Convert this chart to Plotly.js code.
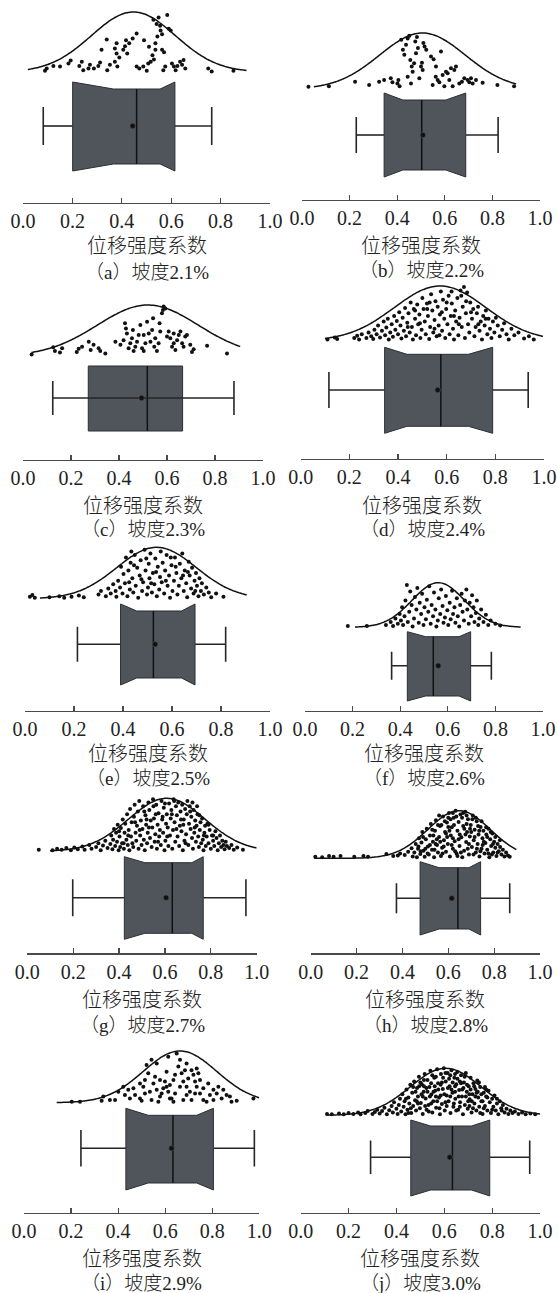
<!DOCTYPE html>
<html>
<head>
<meta charset="utf-8">
<script src="https://cdn.plot.ly/plotly-3.0.1.min.js"></script>
<style>
  html, body { margin: 0; padding: 0; background: #fff; }
  #chart { width: 558px; height: 1293px; }
</style>
</head>
<body>
<div id="chart"></div>
<script>
// ---- data -------------------------------------------------------------
const panelLetters = ['a', 'b', 'c', 'd', 'e', 'f', 'g', 'h', 'i', 'j'];
const slopeLabels  = ['2.1%', '2.2%', '2.3%', '2.4%', '2.5%', '2.6%', '2.7%', '2.8%', '2.9%', '3.0%'];
const axisTitle    = '位移强度系数';
const tickValues   = [0, 0.2, 0.4, 0.6, 0.8, 1.0];

// box statistics of the displacement-intensity coefficient
const lowerWhisker = [0.082, 0.228, 0.124, 0.116, 0.214, 0.364, 0.198, 0.374, 0.242, 0.292];
const quartile1    = [0.201, 0.345, 0.272, 0.345, 0.390, 0.430, 0.423, 0.477, 0.433, 0.460];
const notchLow     = [0.366, 0.424, null,  0.437, 0.456, 0.507, 0.513, 0.560, 0.528, 0.543];
const medians      = [0.460, 0.503, 0.518, 0.576, 0.524, 0.539, 0.632, 0.642, 0.633, 0.634];
const notchHigh    = [0.555, 0.604, null,  0.689, 0.639, 0.647, 0.717, 0.690, 0.734, 0.714];
const quartile3    = [0.615, 0.688, 0.665, 0.789, 0.694, 0.696, 0.767, 0.741, 0.805, 0.790];
const upperWhisker = [0.764, 0.824, 0.879, 0.935, 0.819, 0.783, 0.953, 0.868, 0.979, 0.957];
const means        = [0.444, 0.508, 0.494, 0.563, 0.531, 0.560, 0.605, 0.615, 0.627, 0.623];

// fitted normal curve: mean, standard deviation and drawn extent
const curveMean = [0.447, 0.506, 0.520, 0.573, 0.537, 0.560, 0.608, 0.647, 0.663, 0.606];
const curveSd   = [0.170, 0.180, 0.210, 0.188, 0.162, 0.110, 0.167, 0.136, 0.156, 0.148];
const curveLo   = [0.020, 0.050, 0.035, 0.100, 0.061, 0.210, 0.099, 0.015, 0.139, 0.111];
const curveHi   = [0.905, 0.900, 0.905, 0.996, 0.905, 0.906, 1.000, 0.897, 1.000, 1.000];

// observations: [value, jitter height as a share of the curve peak]
const ptsA = [[0.096,0.06],[0.089,0.02],[0.150,0.09],[0.184,0.14],[0.193,0.19],[0.238,0.17],[0.244,0.03],[0.228,0.10],[0.271,0.12],[0.287,0.06],[0.305,0.10],[0.312,0.16],[0.341,0.03],[0.352,0.12],[0.372,0.17],[0.382,0.09],[0.318,0.37],[0.339,0.54],[0.372,0.39],[0.379,0.48],[0.379,0.31],[0.390,0.24],[0.406,0.37],[0.413,0.43],[0.417,0.53],[0.422,0.31],[0.430,0.48],[0.444,0.56],[0.460,0.64],[0.460,0.09],[0.471,0.06],[0.487,0.09],[0.490,0.53],[0.501,0.02],[0.507,0.14],[0.510,0.42],[0.517,0.17],[0.524,0.28],[0.530,0.21],[0.528,0.87],[0.536,0.37],[0.536,0.48],[0.544,0.59],[0.541,0.80],[0.549,0.91],[0.555,0.77],[0.557,0.69],[0.563,0.63],[0.563,0.37],[0.571,0.33],[0.568,0.03],[0.576,0.09],[0.584,0.95],[0.590,0.72],[0.598,0.69],[0.603,0.14],[0.611,0.09],[0.618,0.03],[0.625,0.10],[0.636,0.17],[0.644,0.12],[0.650,0.20],[0.657,0.06],[0.750,0.06],[0.764,0.01],[0.852,0.02],[0.123,0.10],[0.265,0.06]];
const ptsB = [[0.027,0.04],[0.113,0.05],[0.223,0.13],[0.282,0.07],[0.324,0.13],[0.345,0.16],[0.373,0.19],[0.380,0.12],[0.401,0.10],[0.405,0.16],[0.410,0.05],[0.417,0.88],[0.424,0.70],[0.430,0.61],[0.437,0.79],[0.444,0.90],[0.451,0.95],[0.455,0.52],[0.461,0.40],[0.465,0.31],[0.471,0.46],[0.476,0.85],[0.479,0.64],[0.483,0.93],[0.487,0.73],[0.493,0.19],[0.500,0.40],[0.504,0.47],[0.507,0.34],[0.510,0.82],[0.515,0.76],[0.522,0.70],[0.542,0.58],[0.549,0.07],[0.553,0.53],[0.562,0.22],[0.570,0.16],[0.577,0.12],[0.584,0.67],[0.591,0.25],[0.598,0.05],[0.605,0.31],[0.612,0.28],[0.619,0.16],[0.626,0.37],[0.633,0.05],[0.640,0.34],[0.647,0.40],[0.661,0.10],[0.672,0.13],[0.682,0.19],[0.696,0.16],[0.703,0.12],[0.710,0.19],[0.717,0.10],[0.731,0.16],[0.759,0.11],[0.821,0.07],[0.891,0.05],[0.458,0.10],[0.444,0.22],[0.563,0.40]];
const ptsC = [[0.036,0.03],[0.126,0.17],[0.133,0.10],[0.154,0.07],[0.163,0.15],[0.224,0.08],[0.232,0.14],[0.246,0.18],[0.274,0.28],[0.282,0.12],[0.294,0.22],[0.315,0.15],[0.322,0.10],[0.343,0.05],[0.385,0.28],[0.406,0.22],[0.419,0.31],[0.425,0.64],[0.429,0.54],[0.433,0.44],[0.440,0.15],[0.447,0.25],[0.454,0.35],[0.458,0.51],[0.461,0.10],[0.468,0.18],[0.475,0.28],[0.482,0.41],[0.489,0.61],[0.496,0.15],[0.503,0.10],[0.510,0.25],[0.517,0.67],[0.524,0.44],[0.531,0.28],[0.538,0.51],[0.542,0.74],[0.547,0.18],[0.551,0.35],[0.558,0.10],[0.565,0.25],[0.569,0.64],[0.572,0.48],[0.579,0.84],[0.583,0.90],[0.586,0.97],[0.593,0.93],[0.600,0.38],[0.607,0.48],[0.614,0.35],[0.621,0.18],[0.628,0.25],[0.635,0.12],[0.642,0.31],[0.649,0.41],[0.656,0.48],[0.663,0.25],[0.669,0.18],[0.676,0.38],[0.683,0.41],[0.697,0.22],[0.704,0.08],[0.711,0.13],[0.767,0.20],[0.850,0.05],[0.628,0.44],[0.503,0.41]];
const ptsD = [[0.110,0.02],[0.140,0.06],[0.150,0.03],[0.220,0.05],[0.232,0.09],[0.240,0.02],[0.251,0.12],[0.270,0.05],[0.279,0.15],[0.290,0.08],[0.298,0.03],[0.303,0.20],[0.312,0.12],[0.318,0.28],[0.326,0.06],[0.334,0.18],[0.341,0.35],[0.347,0.10],[0.352,0.24],[0.358,0.40],[0.362,0.02],[0.368,0.15],[0.374,0.30],[0.379,0.07],[0.384,0.45],[0.389,0.20],[0.395,0.36],[0.400,0.12],[0.405,0.52],[0.410,0.28],[0.414,0.04],[0.419,0.42],[0.424,0.18],[0.429,0.60],[0.433,0.08],[0.438,0.33],[0.443,0.50],[0.448,0.15],[0.452,0.70],[0.457,0.25],[0.461,0.02],[0.465,0.58],[0.470,0.40],[0.474,0.10],[0.479,0.66],[0.483,0.30],[0.488,0.48],[0.492,0.05],[0.497,0.20],[0.500,0.78],[0.505,0.58],[0.510,0.35],[0.514,0.12],[0.519,0.68],[0.523,0.45],[0.528,0.03],[0.532,0.25],[0.536,0.85],[0.541,0.55],[0.545,0.15],[0.550,0.38],[0.554,0.72],[0.559,0.08],[0.563,0.62],[0.567,0.28],[0.572,0.48],[0.576,0.90],[0.581,0.18],[0.585,0.75],[0.590,0.40],[0.594,0.05],[0.598,0.58],[0.603,0.30],[0.608,0.82],[0.612,0.12],[0.617,0.45],[0.621,0.68],[0.626,0.22],[0.630,0.02],[0.635,0.55],[0.639,0.35],[0.644,0.78],[0.648,0.10],[0.653,0.42],[0.657,0.92],[0.662,0.25],[0.666,0.62],[0.671,0.98],[0.675,0.05],[0.679,0.50],[0.684,0.88],[0.688,0.30],[0.693,0.15],[0.697,0.70],[0.704,0.40],[0.709,0.58],[0.714,0.08],[0.719,0.25],[0.724,0.50],[0.729,0.62],[0.735,0.18],[0.740,0.35],[0.745,0.02],[0.750,0.45],[0.756,0.28],[0.761,0.55],[0.767,0.12],[0.772,0.40],[0.778,0.22],[0.784,0.05],[0.790,0.35],[0.796,0.15],[0.802,0.42],[0.810,0.28],[0.818,0.08],[0.828,0.20],[0.836,0.32],[0.846,0.12],[0.855,0.02],[0.866,0.22],[0.878,0.10],[0.895,0.15],[0.918,0.04],[0.938,0.08],[0.958,0.02],[0.440,0.25],[0.470,0.55],[0.490,0.32],[0.520,0.58],[0.550,0.22],[0.580,0.52],[0.600,0.70],[0.630,0.45],[0.650,0.30],[0.680,0.72],[0.700,0.52],[0.730,0.30],[0.760,0.40],[0.530,0.70],[0.570,0.10],[0.620,0.90],[0.660,0.82]];
const ptsE = [[0.020,0.04],[0.030,0.07],[0.040,0.02],[0.100,0.03],[0.140,0.05],[0.160,0.02],[0.190,0.04],[0.220,0.06],[0.240,0.03],[0.300,0.08],[0.310,0.15],[0.330,0.05],[0.340,0.20],[0.350,0.10],[0.360,0.28],[0.370,0.15],[0.373,0.04],[0.380,0.35],[0.388,0.22],[0.392,0.62],[0.398,0.10],[0.402,0.48],[0.408,0.30],[0.412,0.80],[0.418,0.05],[0.422,0.55],[0.428,0.18],[0.431,0.70],[0.434,0.92],[0.438,0.40],[0.442,0.12],[0.448,0.85],[0.452,0.25],[0.458,0.60],[0.462,0.02],[0.468,0.45],[0.472,0.75],[0.478,0.15],[0.482,0.32],[0.488,0.95],[0.492,0.55],[0.498,0.08],[0.502,0.22],[0.505,0.68],[0.508,0.40],[0.512,0.88],[0.518,0.12],[0.522,0.50],[0.528,0.28],[0.532,0.78],[0.538,0.05],[0.542,0.62],[0.548,0.18],[0.551,0.42],[0.554,0.92],[0.558,0.32],[0.562,0.70],[0.568,0.10],[0.572,0.55],[0.578,0.85],[0.582,0.25],[0.588,0.45],[0.592,0.02],[0.598,0.65],[0.602,0.15],[0.608,0.35],[0.612,0.80],[0.618,0.50],[0.622,0.08],[0.628,0.25],[0.632,0.68],[0.638,0.40],[0.642,0.88],[0.648,0.15],[0.652,0.55],[0.658,0.30],[0.662,0.03],[0.668,0.72],[0.672,0.45],[0.678,0.20],[0.682,0.60],[0.688,0.10],[0.692,0.35],[0.698,0.50],[0.702,0.25],[0.708,0.05],[0.712,0.40],[0.718,0.15],[0.722,0.30],[0.730,0.08],[0.740,0.22],[0.750,0.12],[0.760,0.03],[0.780,0.10],[0.810,0.04],[0.425,0.32],[0.445,0.65],[0.475,0.38],[0.495,0.78],[0.515,0.30],[0.535,0.52],[0.575,0.35],[0.595,0.80],[0.615,0.62],[0.645,0.45],[0.665,0.52],[0.695,0.15]];
const ptsF = [[0.180,0.03],[0.260,0.03],[0.340,0.05],[0.360,0.12],[0.370,0.03],[0.380,0.20],[0.390,0.08],[0.398,0.30],[0.403,0.15],[0.408,0.45],[0.412,0.05],[0.418,0.25],[0.422,0.60],[0.428,0.95],[0.432,0.12],[0.438,0.35],[0.442,0.80],[0.448,0.50],[0.452,0.02],[0.458,0.20],[0.462,0.68],[0.468,0.40],[0.472,0.88],[0.478,0.10],[0.482,0.55],[0.488,0.30],[0.492,0.75],[0.498,0.05],[0.502,0.45],[0.508,0.18],[0.512,0.62],[0.518,0.35],[0.522,0.92],[0.528,0.08],[0.532,0.50],[0.538,0.25],[0.542,0.78],[0.548,0.40],[0.552,0.02],[0.558,0.15],[0.562,0.65],[0.568,0.30],[0.572,0.85],[0.578,0.48],[0.582,0.10],[0.588,0.22],[0.592,0.70],[0.598,0.38],[0.602,0.05],[0.608,0.55],[0.612,0.18],[0.618,0.82],[0.622,0.30],[0.628,0.45],[0.632,0.10],[0.638,0.65],[0.642,0.25],[0.648,0.02],[0.652,0.50],[0.658,0.75],[0.662,0.35],[0.668,0.15],[0.672,0.60],[0.678,0.85],[0.682,0.40],[0.688,0.08],[0.692,0.55],[0.698,0.25],[0.702,0.72],[0.708,0.45],[0.712,0.12],[0.718,0.32],[0.722,0.60],[0.728,0.05],[0.732,0.20],[0.740,0.40],[0.750,0.12],[0.760,0.28],[0.770,0.05],[0.780,0.15],[0.800,0.08],[0.820,0.04]];
const ptsG = [[0.050,0.03],[0.110,0.02],[0.130,0.05],[0.150,0.03],[0.170,0.06],[0.190,0.02],[0.205,0.07],[0.220,0.04],[0.240,0.09],[0.250,0.03],[0.270,0.12],[0.280,0.05],[0.300,0.08],[0.310,0.15],[0.320,0.02],[0.330,0.11],[0.340,0.20],[0.350,0.06],[0.362,0.14],[0.366,0.30],[0.371,0.04],[0.374,0.22],[0.378,0.42],[0.383,0.10],[0.387,0.35],[0.391,0.18],[0.394,0.50],[0.398,0.02],[0.402,0.28],[0.405,0.08],[0.408,0.44],[0.413,0.15],[0.416,0.60],[0.421,0.05],[0.424,0.35],[0.427,0.52],[0.432,0.22],[0.435,0.70],[0.438,0.12],[0.442,0.40],[0.445,0.02],[0.448,0.80],[0.452,0.28],[0.455,0.55],[0.458,0.15],[0.462,0.08],[0.465,0.65],[0.468,0.88],[0.472,0.35],[0.475,0.20],[0.478,0.48],[0.482,0.75],[0.485,0.05],[0.488,0.95],[0.492,0.30],[0.495,0.58],[0.498,0.12],[0.502,0.42],[0.505,0.85],[0.508,0.22],[0.512,0.02],[0.515,0.68],[0.518,0.50],[0.522,0.15],[0.525,0.35],[0.528,0.92],[0.532,0.78],[0.535,0.25],[0.538,0.58],[0.542,0.08],[0.545,0.45],[0.548,0.98],[0.552,0.62],[0.555,0.18],[0.558,0.32],[0.562,0.88],[0.565,0.05],[0.568,0.50],[0.572,0.72],[0.575,0.28],[0.578,0.40],[0.582,0.12],[0.585,0.95],[0.588,0.60],[0.592,0.35],[0.595,0.82],[0.598,0.02],[0.602,0.20],[0.605,0.52],[0.608,0.70],[0.612,0.45],[0.615,0.10],[0.618,0.90],[0.622,0.30],[0.625,0.62],[0.628,0.78],[0.632,0.05],[0.635,0.40],[0.638,0.98],[0.642,0.55],[0.645,0.18],[0.648,0.85],[0.652,0.68],[0.655,0.28],[0.658,0.92],[0.662,0.10],[0.665,0.48],[0.668,0.75],[0.672,0.38],[0.675,0.88],[0.678,0.02],[0.682,0.60],[0.685,0.20],[0.688,0.80],[0.692,0.32],[0.695,0.70],[0.698,0.95],[0.702,0.12],[0.705,0.52],[0.708,0.85],[0.712,0.42],[0.715,0.65],[0.718,0.25],[0.722,0.05],[0.725,0.78],[0.728,0.35],[0.732,0.58],[0.735,0.18],[0.738,0.48],[0.742,0.70],[0.745,0.28],[0.748,0.08],[0.752,0.40],[0.755,0.55],[0.758,0.15],[0.762,0.62],[0.765,0.22],[0.768,0.02],[0.772,0.35],[0.775,0.48],[0.778,0.10],[0.782,0.28],[0.785,0.52],[0.790,0.15],[0.795,0.40],[0.800,0.05],[0.805,0.30],[0.810,0.20],[0.815,0.10],[0.820,0.38],[0.825,0.25],[0.830,0.02],[0.835,0.15],[0.840,0.30],[0.845,0.08],[0.850,0.20],[0.855,0.12],[0.860,0.04],[0.865,0.18],[0.870,0.10],[0.880,0.06],[0.890,0.12],[0.900,0.03],[0.915,0.07],[0.940,0.03],[0.470,0.55],[0.490,0.40],[0.510,0.75],[0.530,0.45],[0.550,0.85],[0.570,0.18],[0.590,0.65],[0.610,0.28],[0.630,0.70],[0.650,0.42],[0.670,0.60],[0.690,0.15],[0.710,0.75],[0.730,0.45],[0.750,0.68],[0.770,0.30],[0.790,0.50],[0.810,0.30],[0.600,0.90],[0.640,0.95],[0.560,0.70],[0.520,0.60],[0.680,0.50],[0.720,0.92],[0.740,0.85],[0.440,0.30],[0.420,0.15],[0.400,0.38]];
const ptsH = [[0.020,0.03],[0.050,0.02],[0.080,0.05],[0.100,0.03],[0.130,0.05],[0.190,0.03],[0.230,0.05],[0.250,0.03],[0.330,0.09],[0.360,0.05],[0.380,0.06],[0.390,0.10],[0.410,0.07],[0.425,0.14],[0.440,0.21],[0.445,0.04],[0.452,0.12],[0.458,0.30],[0.463,0.02],[0.468,0.20],[0.472,0.42],[0.478,0.09],[0.483,0.33],[0.487,0.55],[0.492,0.16],[0.497,0.03],[0.502,0.40],[0.506,0.62],[0.511,0.25],[0.515,0.08],[0.520,0.48],[0.524,0.72],[0.529,0.18],[0.533,0.35],[0.538,0.02],[0.542,0.58],[0.546,0.80],[0.551,0.28],[0.555,0.12],[0.560,0.45],[0.564,0.68],[0.568,0.05],[0.573,0.22],[0.577,0.88],[0.581,0.38],[0.586,0.55],[0.590,0.14],[0.594,0.75],[0.598,0.30],[0.603,0.95],[0.607,0.04],[0.611,0.48],[0.615,0.65],[0.620,0.20],[0.624,0.85],[0.628,0.36],[0.632,1.00],[0.636,0.10],[0.640,0.58],[0.645,0.76],[0.649,0.26],[0.653,0.92],[0.657,0.44],[0.661,0.02],[0.665,0.68],[0.669,0.16],[0.674,0.98],[0.678,0.34],[0.682,0.55],[0.686,0.82],[0.690,0.08],[0.694,0.46],[0.698,0.70],[0.703,0.24],[0.707,0.90],[0.711,0.38],[0.715,0.60],[0.720,0.12],[0.724,0.78],[0.728,0.30],[0.732,0.50],[0.736,0.04],[0.741,0.66],[0.745,0.20],[0.749,0.42],[0.753,0.58],[0.758,0.10],[0.762,0.32],[0.766,0.50],[0.770,0.18],[0.775,0.62],[0.779,0.02],[0.783,0.40],[0.787,0.26],[0.792,0.52],[0.796,0.12],[0.800,0.35],[0.805,0.22],[0.810,0.05],[0.815,0.30],[0.820,0.15],[0.826,0.24],[0.832,0.08],[0.838,0.18],[0.845,0.04],[0.852,0.12],[0.860,0.06],[0.868,0.03],[0.470,0.25],[0.490,0.45],[0.510,0.10],[0.530,0.60],[0.550,0.40],[0.570,0.70],[0.590,0.52],[0.610,0.82],[0.630,0.15],[0.650,0.50],[0.670,0.62],[0.690,0.30],[0.710,0.08],[0.730,0.68],[0.750,0.28],[0.770,0.45],[0.790,0.08],[0.580,0.25],[0.620,0.42],[0.660,0.85],[0.700,0.55],[0.640,0.05],[0.600,0.66],[0.680,0.72],[0.560,0.90],[0.540,0.18],[0.740,0.15],[0.720,0.85],[0.535,0.48],[0.545,0.30],[0.555,0.70],[0.565,0.35],[0.575,0.10],[0.585,0.78],[0.595,0.45],[0.605,0.58],[0.615,0.28],[0.625,0.70],[0.635,0.88],[0.645,0.40],[0.655,0.12],[0.665,0.95],[0.675,0.50],[0.685,0.20],[0.695,0.62],[0.705,0.82],[0.715,0.45],[0.725,0.20],[0.735,0.58],[0.745,0.78],[0.755,0.35],[0.765,0.65],[0.775,0.10],[0.785,0.55],[0.795,0.30],[0.805,0.45],[0.815,0.12],[0.825,0.38],[0.520,0.28],[0.500,0.20],[0.480,0.15],[0.600,0.85],[0.620,0.95],[0.680,0.90]];
const ptsI = [[0.203,0.02],[0.238,0.02],[0.330,0.04],[0.337,0.12],[0.387,0.05],[0.422,0.31],[0.429,0.15],[0.443,0.25],[0.465,0.28],[0.472,0.15],[0.493,0.08],[0.500,0.04],[0.507,0.31],[0.514,0.44],[0.521,0.73],[0.528,0.57],[0.535,0.21],[0.550,0.37],[0.557,0.50],[0.564,0.76],[0.571,0.02],[0.578,0.12],[0.585,0.18],[0.592,0.28],[0.599,0.41],[0.606,0.60],[0.613,0.21],[0.620,0.34],[0.627,0.08],[0.635,0.02],[0.642,0.54],[0.649,0.95],[0.656,0.70],[0.663,0.83],[0.670,0.57],[0.677,0.41],[0.684,0.63],[0.691,0.31],[0.698,0.47],[0.705,0.21],[0.712,0.63],[0.720,0.54],[0.727,0.41],[0.734,0.31],[0.741,0.57],[0.748,0.18],[0.762,0.05],[0.776,0.02],[0.790,0.15],[0.805,0.05],[0.819,0.18],[0.840,0.08],[0.861,0.15],[0.882,0.02],[0.904,0.04],[0.975,0.08],[0.514,0.18],[0.542,0.05],[0.564,0.25],[0.578,0.44],[0.606,0.31],[0.620,0.08],[0.642,0.18],[0.663,0.31],[0.677,0.05],[0.691,0.15],[0.712,0.05],[0.727,0.18],[0.748,0.44],[0.762,0.28],[0.783,0.37],[0.805,0.25],[0.826,0.31],[0.847,0.25],[0.875,0.12],[0.450,0.08],[0.401,0.21],[0.365,0.05],[0.542,0.83],[0.613,0.89],[0.691,0.76],[0.734,0.66],[0.493,0.37],[0.635,0.44]];
const ptsJ = [[0.110,0.03],[0.130,0.02],[0.160,0.04],[0.180,0.02],[0.200,0.05],[0.220,0.03],[0.240,0.06],[0.250,0.02],[0.270,0.05],[0.280,0.09],[0.300,0.03],[0.310,0.07],[0.320,0.12],[0.330,0.04],[0.340,0.09],[0.350,0.16],[0.360,0.02],[0.370,0.11],[0.380,0.20],[0.385,0.06],[0.390,0.28],[0.400,0.14],[0.405,0.03],[0.410,0.22],[0.415,0.35],[0.420,0.08],[0.425,0.45],[0.430,0.18],[0.434,0.30],[0.438,0.02],[0.442,0.55],[0.446,0.12],[0.450,0.38],[0.454,0.25],[0.458,0.65],[0.462,0.05],[0.466,0.48],[0.470,0.20],[0.474,0.72],[0.478,0.32],[0.482,0.10],[0.486,0.58],[0.490,0.40],[0.494,0.82],[0.498,0.15],[0.502,0.26],[0.506,0.66],[0.510,0.03],[0.514,0.50],[0.518,0.88],[0.522,0.36],[0.526,0.12],[0.530,0.75],[0.534,0.22],[0.538,0.60],[0.542,0.95],[0.546,0.44],[0.550,0.06],[0.554,0.30],[0.558,0.80],[0.562,0.52],[0.566,0.16],[0.570,0.98],[0.574,0.68],[0.578,0.38],[0.582,0.02],[0.586,0.88],[0.590,0.24],[0.594,0.56],[0.598,1.00],[0.602,0.10],[0.606,0.72],[0.610,0.42],[0.614,0.90],[0.618,0.30],[0.622,0.62],[0.626,0.05],[0.630,0.96],[0.634,0.48],[0.638,0.18],[0.642,0.80],[0.646,0.35],[0.650,0.66],[0.654,0.92],[0.658,0.12],[0.662,0.54],[0.666,0.28],[0.670,0.85],[0.674,0.40],[0.678,0.02],[0.682,0.70],[0.686,0.22],[0.690,0.90],[0.694,0.50],[0.698,0.14],[0.702,0.62],[0.706,0.34],[0.710,0.80],[0.714,0.06],[0.718,0.45],[0.722,0.68],[0.726,0.25],[0.730,0.56],[0.734,0.10],[0.738,0.74],[0.742,0.38],[0.746,0.18],[0.750,0.60],[0.755,0.30],[0.760,0.03],[0.765,0.48],[0.770,0.20],[0.775,0.40],[0.780,0.10],[0.785,0.52],[0.790,0.28],[0.795,0.05],[0.800,0.35],[0.805,0.18],[0.810,0.42],[0.815,0.10],[0.820,0.25],[0.826,0.02],[0.832,0.30],[0.838,0.15],[0.845,0.22],[0.852,0.06],[0.860,0.14],[0.868,0.03],[0.876,0.10],[0.885,0.05],[0.895,0.08],[0.910,0.03],[0.925,0.06],[0.940,0.02],[0.960,0.04],[0.980,0.02],[0.440,0.35],[0.460,0.15],[0.480,0.50],[0.500,0.70],[0.520,0.20],[0.540,0.40],[0.560,0.62],[0.580,0.15],[0.600,0.45],[0.620,0.78],[0.640,0.25],[0.660,0.40],[0.680,0.58],[0.700,0.30],[0.720,0.15],[0.740,0.50],[0.760,0.30],[0.780,0.38],[0.800,0.12],[0.530,0.50],[0.570,0.30],[0.610,0.20],[0.650,0.10],[0.690,0.40],[0.730,0.40],[0.550,0.85],[0.590,0.70],[0.630,0.55],[0.670,0.68],[0.710,0.55],[0.490,0.25],[0.470,0.60],[0.450,0.05],[0.510,0.40],[0.750,0.05],[0.770,0.60],[0.820,0.35],[0.840,0.10],[0.485,0.30],[0.495,0.62],[0.505,0.45],[0.515,0.75],[0.525,0.58],[0.535,0.08],[0.545,0.68],[0.555,0.50],[0.565,0.82],[0.575,0.55],[0.585,0.42],[0.595,0.80],[0.605,0.28],[0.615,0.58],[0.625,0.85],[0.635,0.70],[0.645,0.50],[0.655,0.78],[0.665,0.18],[0.675,0.55],[0.685,0.82],[0.695,0.65],[0.705,0.45],[0.715,0.30],[0.725,0.62],[0.735,0.48],[0.745,0.70],[0.755,0.45],[0.765,0.15],[0.775,0.55],[0.545,0.25],[0.565,0.40],[0.605,0.90],[0.625,0.40],[0.645,0.62],[0.665,0.72],[0.705,0.20],[0.515,0.62],[0.585,0.65],[0.645,0.88]];
const observations = [ptsA, ptsB, ptsC, ptsD, ptsE, ptsF, ptsG, ptsH, ptsI, ptsJ];

// ---- panel frames, in page pixels ------------------------------------
// x0/x1: where 0.0 and 1.0 sit; axis: axis line; peak/base: curve top and zero level;
// top/bot: box edges; mid: whisker level; cap: half cap length; notch: notch depth;
// title/sub: centre lines of the axis title and the panel caption
const frames = [
  {x0: 23,    x1: 270,   axis: 203,    peak: 12,     base: 72,     top: 82,     bot: 171,    mid: 126,    cap: 19,   notch: 7, title: 245,  sub: 272},
  {x0: 302,   x1: 540,   axis: 200,    peak: 33,     base: 89,     top: 93,     bot: 177,    mid: 135,    cap: 18,   notch: 7, title: 244,  sub: 271},
  {x0: 23,    x1: 263,   axis: 460,    peak: 305,    base: 356,    top: 366,    bot: 431,    mid: 398,    cap: 17,   notch: 0, title: 504,  sub: 529, through: true},
  {x0: 300.7, x1: 544,   axis: 459,    peak: 286,    base: 340.7,  top: 347.3,  bot: 433.3,  mid: 390,    cap: 18,   notch: 7, title: 504,  sub: 529},
  {x0: 25,    x1: 270,   axis: 710.7,  peak: 547.3,  base: 598.7,  top: 604,    bot: 685,    mid: 644.3,  cap: 17.5, notch: 7, title: 752,  sub: 778},
  {x0: 305,   x1: 543,   axis: 710.7,  peak: 582.7,  base: 627.3,  top: 631.7,  bot: 701,    mid: 665.7,  cap: 14,   notch: 5, title: 752,  sub: 778},
  {x0: 27.3,  x1: 256.7, axis: 953.3,  peak: 798.3,  base: 851.3,  top: 856.7,  bot: 939.3,  mid: 897.7,  cap: 18.5, notch: 6, title: 998,  sub: 1025},
  {x0: 310.7, x1: 540,   axis: 953.3,  peak: 810.7,  base: 858.3,  top: 861.7,  bot: 935,    mid: 898.3,  cap: 15,   notch: 6, title: 998,  sub: 1025},
  {x0: 24,    x1: 259.3, axis: 1212.7, peak: 1051,   base: 1102.7, top: 1108.3, bot: 1190,   mid: 1148.3, cap: 18.3, notch: 7, title: 1257, sub: 1283},
  {x0: 300.7, x1: 540,   axis: 1212.7, peak: 1068.3, base: 1115.3, top: 1120,   bot: 1196,   mid: 1157.3, cap: 16.7, notch: 6, title: 1257, sub: 1283}
];

// ---- styles ------------------------------------------------------------
const W = 558, H = 1293;
const INK = '#111111';
const AXIS = '#4a4a4a';
const BOX_FILL = '#50555c';
const BOX_EDGE = '#2b2e33';
const LATIN = '"Liberation Serif", "Noto Sans CJK SC", serif';
const CJK = '"Noto Sans CJK SC", sans-serif';

const traces = [];
const layout = {
  width: W, height: H,
  margin: {l: 0, r: 0, t: 0, b: 0},
  paper_bgcolor: '#ffffff', plot_bgcolor: 'rgba(0,0,0,0)',
  showlegend: false, hovermode: false,
  annotations: []
};

frames.forEach((f, i) => {
  const sfx = i ? String(i + 1) : '';
  const xa = 'x' + sfx, ya = 'y' + sfx;

  layout['xaxis' + sfx] = {
    domain: [f.x0 / W, f.x1 / W], range: [0, 1], anchor: ya,
    tickvals: tickValues, ticktext: tickValues.map(v => v.toFixed(1)),
    ticks: 'inside', ticklen: 5, tickwidth: 1.2, tickcolor: AXIS,
    showline: true, linecolor: AXIS, linewidth: 1.2,
    showgrid: false, zeroline: false, fixedrange: true,
    tickfont: {family: '"Liberation Serif", serif', size: 20, color: '#222'}
  };
  layout['yaxis' + sfx] = {
    domain: [1 - f.axis / H, 1 - (f.peak - 8) / H],
    range: [f.axis, f.peak - 8], anchor: xa,
    visible: false, fixedrange: true
  };

  const amp = f.base - f.peak;
  const common = {xaxis: xa, yaxis: ya, hoverinfo: 'skip', cliponaxis: false, showlegend: false};

  // jittered observations
  const pts = observations[i];
  traces.push(Object.assign({
    type: 'scatter', mode: 'markers',
    x: pts.map(p => p[0]), y: pts.map(p => f.base - p[1] * amp),
    marker: {size: 4, color: INK, line: {width: 0}}
  }, common));

  // fitted normal curve
  const cx = [], cy = [];
  const steps = 120;
  for (let k = 0; k <= steps; k++) {
    const v = curveLo[i] + (curveHi[i] - curveLo[i]) * k / steps;
    const z = (v - curveMean[i]) / curveSd[i];
    cx.push(v);
    cy.push(f.base - amp * Math.exp(-0.5 * z * z));
  }
  traces.push(Object.assign({
    type: 'scatter', mode: 'lines', x: cx, y: cy,
    line: {color: INK, width: 1.5, shape: 'spline'}
  }, common));

  // whiskers with caps
  const lw = lowerWhisker[i], hw = upperWhisker[i];
  const q1 = quartile1[i], q3 = quartile3[i], md = medians[i];
  const whisk = {
    type: 'scatter', mode: 'lines',
    x: f.through ? [lw, hw, null, lw, lw, null, hw, hw]
                 : [lw, q1, null, q3, hw, null, lw, lw, null, hw, hw],
    y: f.through ? [f.mid, f.mid, null, f.mid - f.cap, f.mid + f.cap, null, f.mid - f.cap, f.mid + f.cap]
                 : [f.mid, f.mid, null, f.mid, f.mid, null, f.mid - f.cap, f.mid + f.cap, null, f.mid - f.cap, f.mid + f.cap],
    line: {color: '#262626', width: 1.6}
  };

  // notched box outline
  const nl = notchLow[i] === null ? md : notchLow[i];
  const nh = notchHigh[i] === null ? md : notchHigh[i];
  const d = f.notch;
  const box = {
    type: 'scatter', mode: 'lines', fill: 'toself', fillcolor: BOX_FILL,
    x: [q1, nl, nh, q3, q3, nh, nl, q1, q1],
    y: [f.top, f.top + d, f.top + d, f.top, f.bot, f.bot - d, f.bot - d, f.bot, f.top],
    line: {color: BOX_EDGE, width: 1}
  };
  const median = {
    type: 'scatter', mode: 'lines',
    x: [md, md], y: [f.top + d, f.bot - d],
    line: {color: INK, width: 1.5}
  };

  if (f.through) {
    traces.push(Object.assign(box, common), Object.assign(median, common), Object.assign(whisk, common));
  } else {
    traces.push(Object.assign(whisk, common), Object.assign(box, common), Object.assign(median, common));
  }

  // mean marker
  traces.push(Object.assign({
    type: 'scatter', mode: 'markers', x: [means[i]], y: [f.mid],
    marker: {size: 5.5, color: INK, line: {color: '#555', width: 0.6}}
  }, common));

  // axis title and panel caption
  const cxp = (f.x0 + f.x1) / 2 / W;
  layout.annotations.push({
    xref: 'paper', yref: 'paper', x: cxp, y: 1 - f.title / H,
    xanchor: 'center', yanchor: 'middle', showarrow: false,
    text: axisTitle, font: {family: CJK, size: 20, color: '#222', weight: 300}
  });
  layout.annotations.push({
    xref: 'paper', yref: 'paper', x: cxp, y: 1 - f.sub / H,
    xanchor: 'center', yanchor: 'middle', showarrow: false,
    text: '（' + panelLetters[i] + '）坡度' + slopeLabels[i],
    font: {family: LATIN, size: 19, color: '#222', weight: 300}
  });
});

Plotly.newPlot('chart', traces, layout, {staticPlot: true, displayModeBar: false});
</script>
</body>
</html>
